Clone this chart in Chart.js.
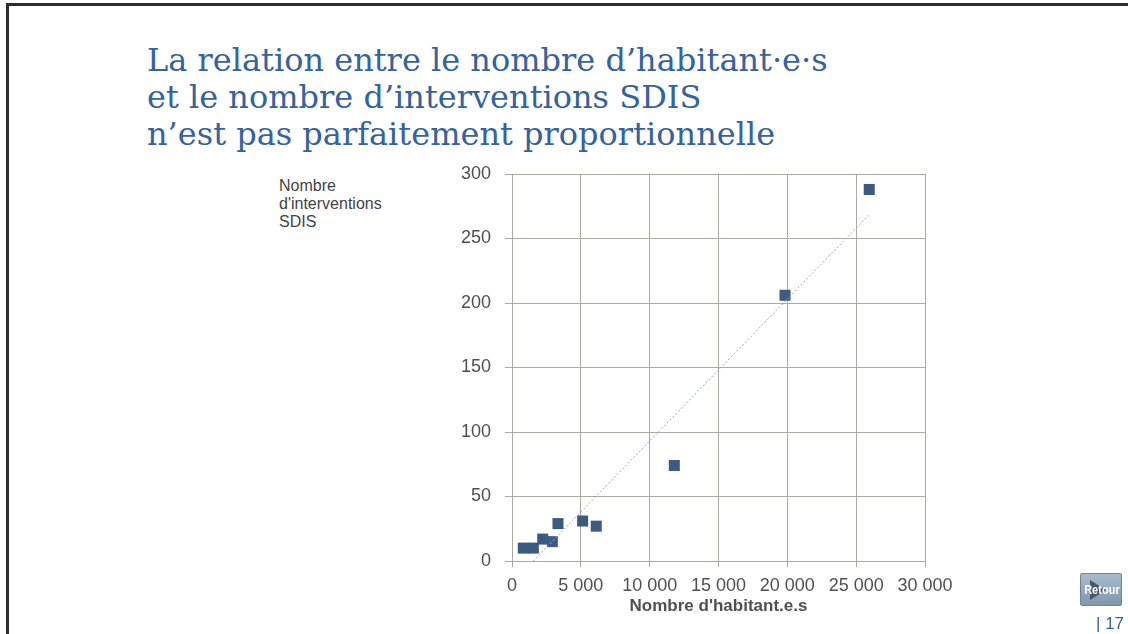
<!DOCTYPE html>
<html lang="fr">
<head>
    <meta charset="UTF-8">
    <title>Interventions SDIS</title>
    <script src="https://cdn.jsdelivr.net/npm/chart.js"></script>
    <style>
        html, body { margin: 0; padding: 0; background: #fff; }
        body { width: 1128px; height: 634px; position: relative; overflow: hidden; }
        .cadre { position: absolute; left: 6px; top: 3px; right: 0; bottom: 0;
                 border-top: 3px solid #2e2e2e; border-left: 3px solid #2e2e2e; }
        #titre { position: absolute; left: 147px; top: 42px; margin: 0;
                 font-family: "DejaVu Serif", serif; font-weight: normal;
                 font-size: 32px; line-height: 37px; color: #3563a0; }
        #titre-y { position: absolute; left: 279px; top: 177px;
                   font-family: "Liberation Sans", Arial, sans-serif;
                   font-size: 16px; line-height: 18px; color: #444; }
        #chart-container { position: absolute; left: 0; top: 0; width: 1128px; height: 634px; }
        .retour { position: absolute; left: 1080px; top: 573px; width: 42px; height: 33px;
                  border: 1px solid #6d8296; border-radius: 2px; box-sizing: border-box;
                  background: linear-gradient(#a9bccf, #7f97ae); overflow: hidden;
                  font-family: "Liberation Sans Narrow", "Liberation Sans", Arial, sans-serif;
                  font-size: 13px; font-weight: bold;
                  color: #fff; text-align: center; line-height: 31px; }
        .retour .fleche { position: absolute; left: 9px; top: 6px; width: 0; height: 0;
                  border-top: 10px solid transparent; border-bottom: 10px solid transparent;
                  border-left: 16px solid #4a5866; }
        .retour span { position: relative; display: inline-block; transform: scaleX(0.85); }
        .page { position: absolute; left: 1096px; top: 614px;
                font-family: "Liberation Sans", Arial, sans-serif; font-size: 17px; color: #3563a0; }
    </style>
</head>
<body>
    <div class="cadre"></div>
    <h1 id="titre">La relation entre le nombre d’habitant·e·s<br>et le nombre d’interventions SDIS<br>n’est pas parfaitement proportionnelle</h1>
    <div id="titre-y">Nombre<br>d'interventions<br>SDIS</div>
    <div id="chart-container"><canvas id="graphique"></canvas></div>
    <div class="retour"><div class="fleche"></div><span>Retour</span></div>
    <div class="page">| 17</div>

    <script>
        // valeurs
        const habitants = [820, 1550, 2230, 2930, 3340, 5130, 6120, 11790, 19830, 25950];
        const interventions = [10, 10, 17, 15, 29, 31, 27, 74, 206, 288];

        // courbe de tendance (extrémités)
        const tendanceX = [1550, 25900];
        const tendanceY = [0, 268];

        const xTicks = [0, 5000, 10000, 15000, 20000, 25000, 30000];
        const yTicks = [0, 50, 100, 150, 200, 250, 300];

        const couleurGrille = '#ababa0';
        const police = 'Liberation Sans';

        function formatNombre(v) {
            return String(v).replace(/\B(?=(\d{3})+(?!\d))/g, ' ');
        }

        const points = habitants.map((h, i) => ({ x: h, y: interventions[i] }));
        const tendance = tendanceX.map((x, i) => ({ x: x, y: tendanceY[i] }));

        const ctx = document.getElementById('graphique').getContext('2d');

        new Chart(ctx, {
            type: 'scatter',
            data: {
                datasets: [{
                    type: 'line',
                    data: tendance,
                    borderColor: '#93a9c4',
                    borderWidth: 1,
                    borderDash: [2, 2],
                    pointRadius: 0,
                    fill: false
                }, {
                    data: points,
                    pointStyle: 'rect',
                    pointRadius: 7.8,
                    backgroundColor: '#3b5c80',
                    borderColor: '#3b5c80',
                    borderWidth: 0
                }]
            },
            options: {
                responsive: true,
                maintainAspectRatio: false,
                animation: false,
                layout: {
                    padding: { left: 440, right: 203, top: 174, bottom: 17 }
                },
                plugins: {
                    legend: { display: false },
                    tooltip: { enabled: false }
                },
                scales: {
                    x: {
                        type: 'linear',
                        min: 0,
                        max: 30000,
                        afterFit: (s) => { s.height = 56; },
                        afterBuildTicks: (s) => { s.ticks = xTicks.map(v => ({ value: v })); },
                        grid: { color: couleurGrille, tickLength: 6, lineWidth: 1 },
                        border: { color: couleurGrille },
                        ticks: {
                            padding: 8,
                            color: '#505050',
                            font: { family: police, size: 18 },
                            maxRotation: 0,
                            callback: (v) => formatNombre(v)
                        },
                        title: {
                            display: true,
                            text: "Nombre d'habitant.e.s",
                            color: '#505050',
                            font: { family: police, size: 17, weight: 'bold' },
                            padding: { top: 0, bottom: 0 }
                        }
                    },
                    y: {
                        min: 0,
                        max: 300,
                        afterFit: (s) => { s.width = 72; },
                        afterBuildTicks: (s) => { s.ticks = yTicks.map(v => ({ value: v })); },
                        grid: { color: couleurGrille, tickLength: 7, lineWidth: 1 },
                        border: { color: couleurGrille },
                        ticks: {
                            padding: 14,
                            color: '#505050',
                            font: { family: police, size: 18 }
                        }
                    }
                }
            }
        });
    </script>
</body>
</html>
